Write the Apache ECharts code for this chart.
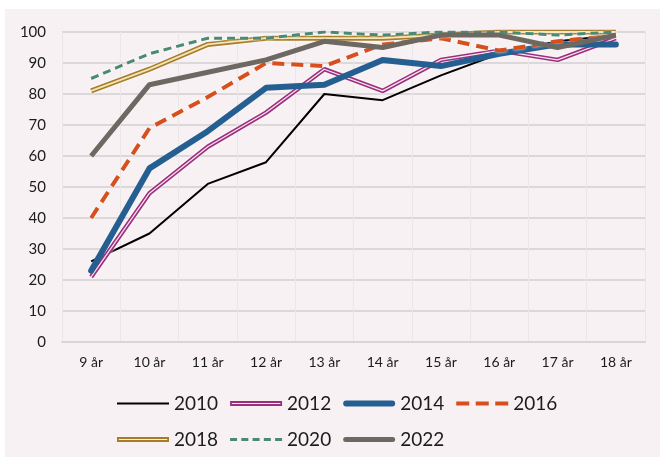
<!DOCTYPE html>
<html>
<head>
<meta charset="utf-8">
<script src="https://cdn.jsdelivr.net/npm/echarts@6/dist/echarts.min.js"></script>
<style>
html,body{margin:0;padding:0;background:#ffffff;}
#c{position:absolute;left:5px;top:9px;width:655px;height:448px;background:#f7f1f3;}
</style>
</head>
<body>
<div id="c"></div>
<script>
const categories = ['9 år','10 år','11 år','12 år','13 år','14 år','15 år','16 år','17 år','18 år'];
const yTicks = [0,10,20,30,40,50,60,70,80,90,100];
const s2010 = [26, 35, 51, 58, 80, 78, 86, 93, 97, 99];
const s2012 = [21, 48, 63, 74, 88, 81, 91, 94, 91, 98];
const s2014 = [23, 56, 68, 82, 83, 91, 89, 93, 96, 96];
const s2016 = [40, 69, 79, 90, 89, 96, 98, 94, 97, 99];
const s2018 = [81, 88, 96, 98, 98, 98, 99, 100, 100, 100];
const s2020 = [85, 93, 98, 98, 100, 99, 100, 100, 99, 100];
const s2022 = [60, 83, 87, 91, 97, 95, 99, 99, 95, 99];

const FONT = 'Lato';
const glow = {shadowColor:'rgba(255,255,255,0.9)', shadowBlur:3};

function line(name, data, style, z){
  return {name:name, type:'line', data:data, symbol:'none', smooth:false, z:z,
    lineStyle:Object.assign({}, style), itemStyle:{color:style.color}, emphasis:{disabled:true}};
}
function inner(name, data, color, width, z){
  return {name:name, type:'line', data:data, symbol:'none', z:z, silent:true,
    lineStyle:{color:color, width:width}, itemStyle:{color:color}, emphasis:{disabled:true}};
}

const iconThin = 'path://M0,0 H52 V2 H0 Z';
const iconHollow = 'path://M0,0 H52 V5 H0 Z M1.8,1.9 V3.1 H50.2 V1.9 Z';
const iconThick6 = 'path://M3,0 H49 A3,3 0 0 1 49,6 H3 A3,3 0 0 1 3,0 Z';
const iconThick5 = 'path://M2.5,0 H49.5 A2.5,2.5 0 0 1 49.5,5 H2.5 A2.5,2.5 0 0 1 2.5,0 Z';
const iconDash16 = 'path://M0,0 H13 V4 H0 Z M19.5,0 H32.5 V4 H19.5 Z M39,0 H52 V4 H39 Z';
const iconDash20 = 'path://M0,0 H7 V3 H0 Z M11.25,0 H18.25 V3 H11.25 Z M22.5,0 H29.5 V3 H22.5 Z M33.75,0 H40.75 V3 H33.75 Z M45,0 H52 V3 H45 Z';

function legItem(name, icon, color){
  return {name:name, icon:icon, itemStyle:{color:color, borderWidth:0, opacity:1}};
}

const chart = echarts.init(document.getElementById('c'), null, {renderer:'canvas'});
chart.setOption({
  backgroundColor:'#f7f1f3',
  animation:false,
  textStyle:{fontFamily:FONT},
  grid:{left:57, right:15, top:23, bottom:115},
  xAxis:{type:'category', data:categories, boundaryGap:true,
    axisLine:{show:true, lineStyle:{color:'#d9d5d6', width:2}},
    axisTick:{show:false},
    splitLine:{show:true, lineStyle:{color:'#ebe6e8', width:1}},
    axisLabel:{color:'#1c1c1c', fontSize:14, fontFamily:FONT, margin:13}},
  yAxis:{type:'value', min:yTicks[0], max:yTicks[yTicks.length-1], interval:10,
    axisLine:{show:false}, axisTick:{show:false},
    splitLine:{show:true, lineStyle:{color:'#dcd8d9', width:2}},
    axisLabel:{color:'#1c1c1c', fontSize:15, fontFamily:FONT, margin:16}},
  legend:[{
    data:[legItem('2010', iconThin, '#000000'), legItem('2012', iconHollow, '#9e2f7e'),
          legItem('2014', iconThick6, '#255f91'), legItem('2016', iconDash16, '#d64f1c')],
    left:112, top:385, padding:0, orient:'horizontal', itemWidth:52, itemHeight:14, itemGap:12,
    selectedMode:false,
    textStyle:{fontSize:19, color:'#1c1c1c', fontFamily:FONT}
  },{
    data:[legItem('2018', iconHollow, '#a67c28'), legItem('2020', iconDash20, '#4b8a72'),
          legItem('2022', iconThick5, '#6d6862')],
    left:112, top:421, padding:0, orient:'horizontal', itemWidth:52, itemHeight:14, itemGap:12,
    selectedMode:false,
    textStyle:{fontSize:19, color:'#1c1c1c', fontFamily:FONT}
  }],
  series:[
    line('2010', s2010, {color:'#000000', width:2}, 2),
    line('2012', s2012, Object.assign({color:'#9e2f7e', width:4.5}, glow), 3),
    inner('2012 inner', s2012, '#f6e6f0', 1.2, 3),
    line('2014', s2014, {color:'#255f91', width:6, cap:'round', join:'round'}, 4),
    line('2016', s2016, Object.assign({color:'#d64f1c', width:4, type:[12,7]}, glow), 5),
    line('2018', s2018, Object.assign({color:'#a67c28', width:5}, glow), 6),
    inner('2018 inner', s2018, '#f4e4b8', 1.8, 6),
    line('2020', s2020, Object.assign({color:'#4b8a72', width:3, type:[8,5]}, glow), 7),
    line('2022', s2022, {color:'#6d6862', width:5}, 8)
  ]
});
</script>
</body>
</html>
